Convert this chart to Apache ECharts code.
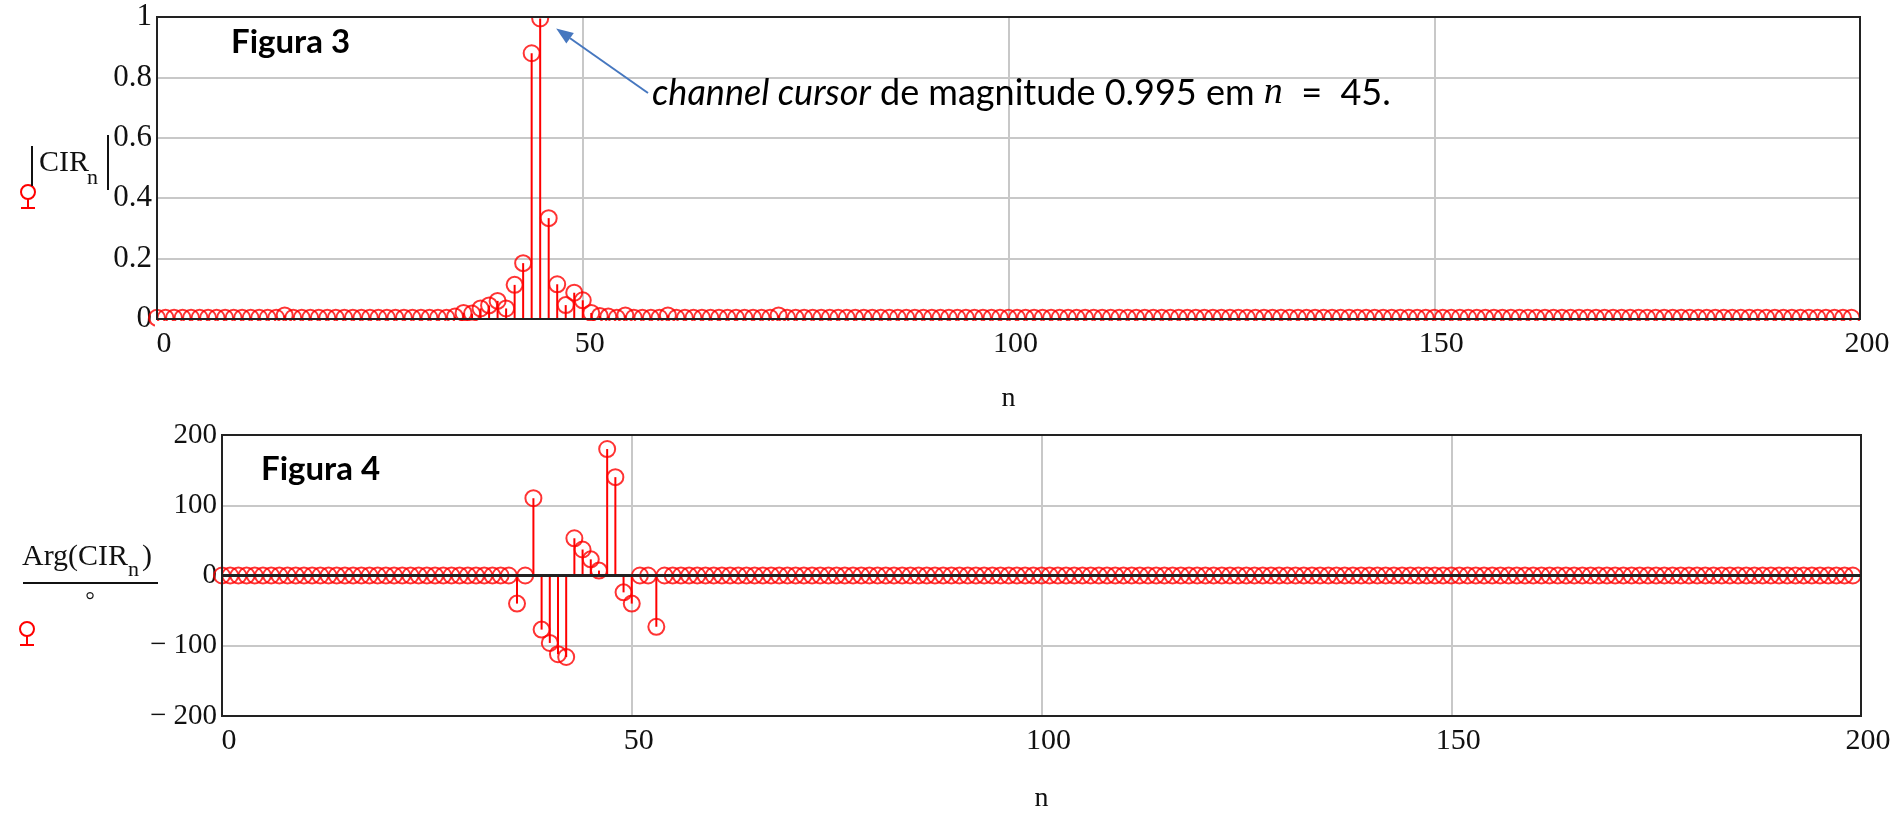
<!DOCTYPE html>
<html>
<head>
<meta charset="utf-8">
<script src="https://cdn.jsdelivr.net/npm/echarts@6/dist/echarts.min.js"></script>
<style>
  html, body { margin: 0; padding: 0; background: #fff; }
  #main { width: 1895px; height: 814px; }
</style>
</head>
<body>
<div id="main"></div>
<script>
// |CIR_n| for n = 0..199 (Figura 3)
var cirMag = [
  0.004,0.004,0.004,0.004,0.004,0.004,0.004,0.004,0.004,0.004,0.004,0.004,0.004,0.004,0.004,0.012,0.004,0.004,0.004,0.004,
  0.004,0.004,0.004,0.004,0.004,0.004,0.004,0.004,0.004,0.004,0.004,0.004,0.004,0.004,0.004,0.008,0.020,0.018,0.035,0.045,
  0.060,0.035,0.113,0.185,0.880,0.995,0.334,0.115,0.046,0.087,0.062,0.020,0.010,0.008,0.004,0.012,0.004,0.004,0.004,0.004,
  0.012,0.004,0.004,0.004,0.004,0.004,0.004,0.004,0.004,0.004,0.004,0.004,0.004,0.012,0.004,0.004,0.004,0.004,0.004,0.004,
  0.004,0.004,0.004,0.004,0.004,0.004,0.004,0.004,0.004,0.004,0.004,0.004,0.004,0.004,0.004,0.004,0.004,0.004,0.004,0.004,
  0.004,0.004,0.004,0.004,0.004,0.004,0.004,0.004,0.004,0.004,0.004,0.004,0.004,0.004,0.004,0.004,0.004,0.004,0.004,0.004,
  0.004,0.004,0.004,0.004,0.004,0.004,0.004,0.004,0.004,0.004,0.004,0.004,0.004,0.004,0.004,0.004,0.004,0.004,0.004,0.004,
  0.004,0.004,0.004,0.004,0.004,0.004,0.004,0.004,0.004,0.004,0.004,0.004,0.004,0.004,0.004,0.004,0.004,0.004,0.004,0.004,
  0.004,0.004,0.004,0.004,0.004,0.004,0.004,0.004,0.004,0.004,0.004,0.004,0.004,0.004,0.004,0.004,0.004,0.004,0.004,0.004,
  0.004,0.004,0.004,0.004,0.004,0.004,0.004,0.004,0.004,0.004,0.004,0.004,0.004,0.004,0.004,0.004,0.004,0.004,0.004,0.004
];
// Arg(CIR_n) in degrees, n = 0..199 (Figura 4)
var cirArg = [
  0,0,0,0,0,0,0,0,0,0,0,0,0,0,0,0,0,0,0,0,
  0,0,0,0,0,0,0,0,0,0,0,0,0,0,0,0,-40,0,110,-77,
  -96,-112,-116,53,37,23,7,180,140,-24,-40,0,0,-73,0,0,0,0,0,0,
  0,0,0,0,0,0,0,0,0,0,0,0,0,0,0,0,0,0,0,0,
  0,0,0,0,0,0,0,0,0,0,0,0,0,0,0,0,0,0,0,0,
  0,0,0,0,0,0,0,0,0,0,0,0,0,0,0,0,0,0,0,0,
  0,0,0,0,0,0,0,0,0,0,0,0,0,0,0,0,0,0,0,0,
  0,0,0,0,0,0,0,0,0,0,0,0,0,0,0,0,0,0,0,0,
  0,0,0,0,0,0,0,0,0,0,0,0,0,0,0,0,0,0,0,0,
  0,0,0,0,0,0,0,0,0,0,0,0,0,0,0,0,0,0,0,0
];
var xRange = [0, 200];      // ticks every 50
var magRange = [0, 1];      // ticks every 0.2
var argRange = [-200, 200]; // ticks every 100
var cursorN = 45;

var chart = echarts.init(document.getElementById('main'));
var serif = 'Liberation Serif';
var red = '#ff0000';
var G1 = {left: 157, top: 17, width: 1703, height: 302};
var G2 = {left: 222, top: 435, width: 1639, height: 292};

var magData = cirMag.map(function (v, i) { return [i, v]; });
var argData = cirArg.map(function (v, i) { return [i, v]; });

function xAxisCfg(gi, gap) {
  return {
    gridIndex: gi, type: 'value', min: xRange[0], max: xRange[1], interval: 50,
    name: 'n', nameLocation: 'middle', nameGap: gap,
    nameTextStyle: {fontFamily: serif, fontSize: 28, color: '#111'},
    axisLine: {show: false}, axisTick: {show: false},
    axisLabel: {fontFamily: serif, fontSize: 30, color: '#111', margin: 10,
      padding: [0, 0, 0, 14], showMinLabel: true, showMaxLabel: true},
    splitLine: {show: true, lineStyle: {color: '#c8c8c8', width: 2}}
  };
}
function yAxisCfg(gi, range, step, size, fmt) {
  return {
    gridIndex: gi, type: 'value', min: range[0], max: range[1], interval: step,
    axisLine: {show: false}, axisTick: {show: false},
    axisLabel: {fontFamily: serif, fontSize: size, color: '#111', margin: 5,
      padding: [8, 0, 0, 0], formatter: fmt, showMinLabel: true, showMaxLabel: true},
    splitLine: {show: true, lineStyle: {color: '#c8c8c8', width: 2}}
  };
}

var gridStyle = {show: true, borderColor: '#222', borderWidth: 2, z: 3, containLabel: false};
var circleStyle = {color: 'rgba(0,0,0,0)', borderColor: red, borderWidth: 2};

chart.setOption({
  animation: false,
  backgroundColor: '#fff',
  grid: [
    Object.assign({}, gridStyle, G1),
    Object.assign({}, gridStyle, G2)
  ],
  xAxis: [xAxisCfg(0, 66), xAxisCfg(1, 69)],
  yAxis: [
    yAxisCfg(0, magRange, 0.2, 31, function (v) { return String(+v.toFixed(1)); }),
    yAxisCfg(1, argRange, 100, 29, function (v) { return v < 0 ? '\u2212 ' + Math.abs(v) : String(v); })
  ],
  series: [
    {type: 'bar', xAxisIndex: 0, yAxisIndex: 0, data: magData, barWidth: 2,
      itemStyle: {color: red}, silent: true},
    {type: 'scatter', xAxisIndex: 0, yAxisIndex: 0, data: magData, symbolSize: 16,
      itemStyle: circleStyle, silent: true},
    {type: 'bar', xAxisIndex: 1, yAxisIndex: 1, data: argData, barWidth: 2,
      itemStyle: {color: red}, silent: true},
    {type: 'scatter', xAxisIndex: 1, yAxisIndex: 1, data: argData, symbolSize: 16,
      itemStyle: circleStyle, silent: true,
      markLine: {silent: true, symbol: 'none', label: {show: false},
        lineStyle: {color: '#222', width: 3, type: 'solid'}, data: [{yAxis: 0}]}}
  ]
});

// arrow pointing at the channel cursor
var peak = chart.convertToPixel({gridIndex: 0}, [cursorN, cirMag[cursorN]]);
var tip = [peak[0] + 16, peak[1] + 10];
var tail = [648, 93];
var dx = tip[0] - tail[0], dy = tip[1] - tail[1];
var len = Math.sqrt(dx * dx + dy * dy);
var ux = dx / len, uy = dy / len;
var base = [tip[0] - ux * 17, tip[1] - uy * 17];
var px = -uy * 6.5, py = ux * 6.5;
var blue = '#4677bf';

function marker(cx, cy) {
  return {
    type: 'group', z: 20, children: [
      {type: 'circle', shape: {cx: cx, cy: cy, r: 7}, style: {fill: 'none', stroke: red, lineWidth: 2}},
      {type: 'line', shape: {x1: cx, y1: cy + 7, x2: cx, y2: cy + 16}, style: {stroke: red, lineWidth: 2}},
      {type: 'line', shape: {x1: cx - 7, y1: cy + 16, x2: cx + 7, y2: cy + 16}, style: {stroke: red, lineWidth: 2}}
    ]
  };
}

chart.setOption({
  graphic: [
    // masks clipping circles outside the top plot
    {type: 'rect', z: 5, silent: true, shape: {x: G1.left - 2, y: G1.top + G1.height + 2, width: G1.width + 10, height: 11}, style: {fill: '#fff'}},
    {type: 'rect', z: 5, silent: true, shape: {x: G1.left - 2, y: G1.top - 12, width: G1.width + 10, height: 11}, style: {fill: '#fff'}},
    {type: 'text', z: 20, x: 231, y: 42, style: {text: 'Figura 3', fontFamily: 'Lato', fontWeight: 'bold', fontSize: 33, fill: '#000', verticalAlign: 'middle'}},
    {type: 'text', z: 20, x: 261, y: 469, style: {text: 'Figura 4', fontFamily: 'Lato', fontWeight: 'bold', fontSize: 33, fill: '#000', verticalAlign: 'middle'}},
    {type: 'text', z: 20, x: 652, y: 93, style: {
      text: '{i|channel cursor} de magnitude 0.995 em {m|n}  =  45.',
      fontFamily: 'Lato', fontSize: 36, fill: '#000', verticalAlign: 'middle',
      rich: {i: {fontStyle: 'italic', fontFamily: 'Lato', fontSize: 36}, m: {fontStyle: 'italic', fontFamily: serif, fontSize: 38}}
    }},
    {type: 'line', z: 20, shape: {x1: tail[0], y1: tail[1], x2: base[0], y2: base[1]}, style: {stroke: blue, lineWidth: 2}},
    {type: 'polygon', z: 20, shape: {points: [tip, [base[0] + px, base[1] + py], [base[0] - px, base[1] - py]]}, style: {fill: blue}},
    // |CIR_n|
    {type: 'line', z: 20, shape: {x1: 32, y1: 146, x2: 32, y2: 186}, style: {stroke: '#111', lineWidth: 2}},
    {type: 'text', z: 20, x: 39, y: 163, style: {text: 'CIR', fontFamily: serif, fontSize: 30, fill: '#111', verticalAlign: 'middle'}},
    {type: 'text', z: 20, x: 87, y: 178, style: {text: 'n', fontFamily: serif, fontSize: 22, fill: '#111', verticalAlign: 'middle'}},
    {type: 'line', z: 20, shape: {x1: 108, y1: 135, x2: 108, y2: 190}, style: {stroke: '#111', lineWidth: 2}},
    marker(28, 192),
    // Arg(CIR_n) / °
    {type: 'text', z: 20, x: 22, y: 557, style: {text: 'Arg(CIR', fontFamily: serif, fontSize: 30, fill: '#111', verticalAlign: 'middle'}},
    {type: 'text', z: 20, x: 128, y: 570, style: {text: 'n', fontFamily: serif, fontSize: 22, fill: '#111', verticalAlign: 'middle'}},
    {type: 'text', z: 20, x: 142, y: 557, style: {text: ')', fontFamily: serif, fontSize: 30, fill: '#111', verticalAlign: 'middle'}},
    {type: 'line', z: 20, shape: {x1: 23, y1: 583, x2: 158, y2: 583}, style: {stroke: '#111', lineWidth: 2}},
    {type: 'text', z: 20, x: 90, y: 602, style: {text: '\u00b0', fontFamily: serif, fontSize: 24, fill: '#111', align: 'center', verticalAlign: 'middle'}},
    marker(27, 629)
  ]
});
</script>
</body>
</html>
